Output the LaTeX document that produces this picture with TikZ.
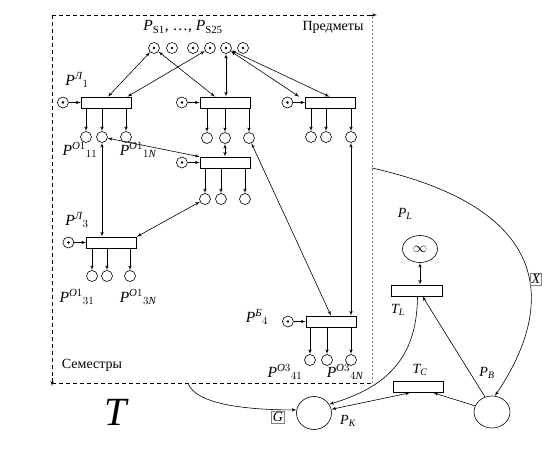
\documentclass[tikz,border=0pt]{standalone}
\usepackage{amsmath}
\usepackage{fontspec}
\setmainfont{Liberation Serif}
\usepackage{tikz}
\usetikzlibrary{shapes.geometric, arrows, positioning, calc}

\begin{document}
\begin{tikzpicture}[
    x=1pt, y=-1pt,
    line width=0.6pt,
    font=\fontsize{14}{16}\selectfont,
    trans/.style={rectangle, draw, minimum width=50pt, minimum height=11pt, inner sep=0pt},
    place/.style={circle, draw, minimum size=11pt, inner sep=0pt},
    marked/.style={place, path picture={\fill (path picture bounding box.center) circle (1.4pt);}},
    bigplace/.style={ellipse, draw, inner sep=0pt},
    plabel/.style={font=\fontsize{15.5}{17}\selectfont},
    arrow/.style={-latex'},
    biarrow/.style={latex'-latex'},
    frame/.style={dash pattern=on 4pt off 3pt},
    tag/.style={rectangle, draw=gray, inner sep=1.5pt}
]
    \useasboundingbox (0,0) rectangle (558,452);

    % Frame
    \draw [frame] (52,15) -- (372,15);
    \draw [arrow] (370,15) -- (377,15);
    \draw [frame] (52,15) -- (52,380);
    \draw [arrow] (52,378) -- (52,386);
    \draw [frame] (52,383) -- (372,383);
    \draw [gray, line width=0.4pt, dash pattern=on 2pt off 2pt] (372,17) -- (372,383);
    \coordinate (fbot) at (188,383);
    \coordinate (fright) at (372,168);
    \node (subj) at (333,27) {Предметы};
    \node (sem) at (92,365) {Семестры};
    \node [font=\fontsize{40}{42}\selectfont\itshape] (bigT) at (116,412) {T};

    % Subject places
    \node [plabel] (slabel) at (183,27) {$\textit{P}_{\text{S1}}$, …, $\textit{P}_{\text{S25}}$};
    \foreach \x [count=\i] in {154,172,193,210,226,243}
        \node [marked] (s\i) at (\x,48) {};

    % Transitions
    \node [trans] (t1) at (106,102.5) {};
    \node [trans] (t2) at (225,102.5) {};
    \node [trans] (t3) at (330.5,102.5) {};
    \node [trans] (t4) at (225,162.5) {};
    \node [trans] (t5) at (111.5,242.5) {};
    \node [trans] (t6) at (331,321.5) {};

    % Input places
    \foreach \i in {1,...,6}
        \node [marked, left=12pt of t\i] (in\i) {};
    \foreach \i in {1,...,6}
        \draw [arrow] (in\i) -- (t\i);

    % Output places
    \foreach \x [count=\i] in {86,102,126}
        \node [place] (o1\i) at (\x,137) {};
    \foreach \x [count=\i] in {207,225,249}
        \node [place] (o2\i) at (\x,138) {};
    \foreach \x [count=\i] in {311,326,351}
        \node [place] (o3\i) at (\x,137) {};
    \foreach \x [count=\i] in {205,221,245}
        \node [place] (o4\i) at (\x,199) {};
    \foreach \x [count=\i] in {92,107,130}
        \node [place] (o5\i) at (\x,276) {};
    \foreach \x [count=\i] in {310,327,351}
        \node [place] (o6\i) at (\x,360) {};
    \foreach \t in {1,...,6}
        \foreach \i in {1,2,3}
            \draw [arrow] (t\t.south -| o\t\i) -- (o\t\i);

    % Labels
    \node [plabel] (lp1) at (77,80) {$\textit{P}^{\textit{Л}}{}_{1}$};
    \node [plabel] (lp3) at (77,220) {$\textit{P}^{\textit{Л}}{}_{3}$};
    \node [plabel] (lp4) at (257,317) {$\textit{P}^{\textit{Б}}{}_{4}$};
    \node [plabel] (lo11) at (80,150) {$\textit{P}^{\textit{O}1}{}_{11}$};
    \node [plabel] (lo1n) at (138,150) {$\textit{P}^{\textit{O}1}{}_{1\textit{N}}$};
    \node [plabel] (lo31) at (77,297) {$\textit{P}^{\textit{O}1}{}_{31}$};
    \node [plabel] (lo3n) at (138,297) {$\textit{P}^{\textit{O}1}{}_{3\textit{N}}$};
    \node [plabel] (lo41) at (285,372) {$\textit{P}^{\textit{O}3}{}_{41}$};
    \node [plabel] (lo4n) at (345,372) {$\textit{P}^{\textit{O}3}{}_{4\textit{N}}$};

    % Arcs inside the frame
    \draw [biarrow] (s1) -- ([xshift=2pt]t1.north);
    \draw [biarrow] (s4) -- ([xshift=-4pt]t1.north east);
    \draw [biarrow] (s1) -- ([xshift=-10pt]t2.north);
    \draw [biarrow] (s5) -- (s5 |- t2.north);
    \draw [biarrow] (s5) -- ([xshift=-1pt]t3.north);
    \draw [biarrow] (s5) -- ([xshift=-6pt]t3.north west);
    \draw [biarrow] (o12) -- (o12 |- t5.north);
    \draw [biarrow] (o12) -- (t4.north west);
    \draw [biarrow] (o22) -- (t4.north);
    \draw [biarrow] (o41) -- (t5.north east);
    \draw [biarrow] (o23) -- (t6.north);
    \draw [biarrow] (o33) -- (o33 |- t6.north);

    % Control net
    \node [bigplace, minimum width=35pt, minimum height=27pt] (pl) at (420,249) {$\infty$};
    \node [trans, minimum width=51pt] (tl) at (416.5,290.5) {};
    \node [trans] (tc) at (418,387) {};
    \node [bigplace, minimum width=36pt, minimum height=32pt] (pb) at (492,412) {};
    \node [bigplace, minimum width=35pt, minimum height=33pt] (pk) at (314,413) {};
    \node (lpl) at (405,214) {$\textit{P}_{\textit{L}}$};
    \node (ltl) at (398,310) {$\textit{T}_{\textit{L}}$};
    \node (ltc) at (420,370) {$\textit{T}_{\textit{C}}$};
    \node (lpb) at (487,373) {$\textit{P}_{\textit{B}}$};
    \node (lpk) at (348,421) {$\textit{P}_{\textit{K}}$};

    \draw [biarrow] (pl) -- (pl |- tl.north);
    \draw [arrow] (pb.160) -- ([xshift=-10pt]tc.south east);
    \draw [arrow] (pb.115) -- ([xshift=6pt]tl.south);
    \draw [arrow] ([xshift=1pt]tl.south) .. controls (417,350) and (395,385) .. (pk.30);
    \draw [biarrow] (pk.12) -- ([xshift=-8pt]tc.south);
    \draw [arrow] (fbot) .. controls (195,405) and (250,410) .. (pk.170);
    \draw [arrow] (fright) .. controls (580,215) and (540,330) .. (pb.80);
    \node [tag] (gtag) at (278,417) {$\textit{G}$};
    \node [tag] (xtag) at (536,279) {$\textit{X}$};

\end{tikzpicture}
\end{document}
